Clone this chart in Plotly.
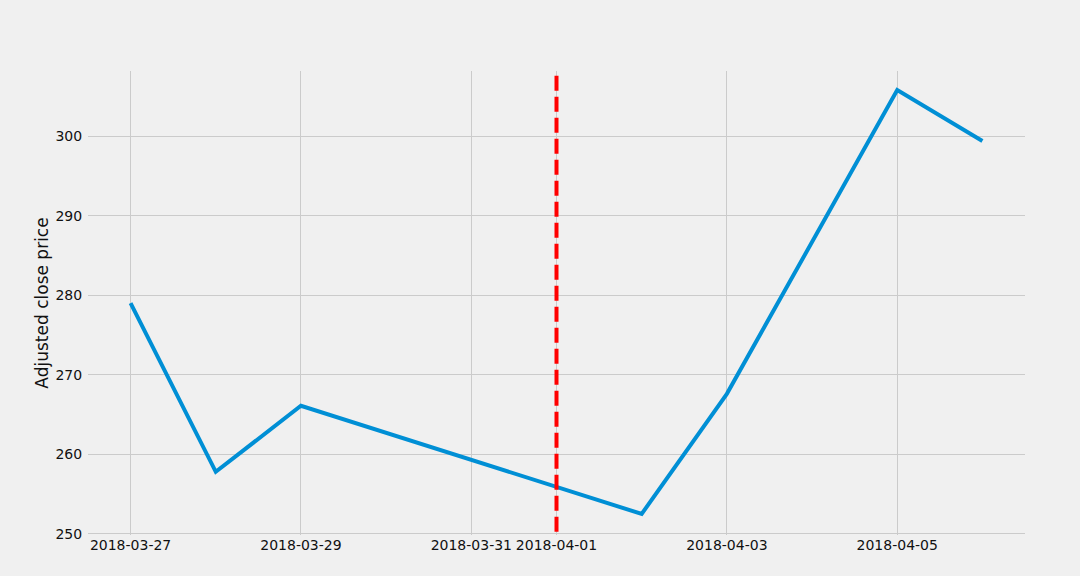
import plotly.graph_objects as go

dates = ["2018-03-27", "2018-03-28", "2018-03-29", "2018-04-02", "2018-04-03", "2018-04-05", "2018-04-06"]
adj_close = [279.0, 257.8, 266.1, 252.5, 267.6, 305.8, 299.4]
split_date = "2018-04-01"
x_tickvals = ["2018-03-27", "2018-03-29", "2018-03-31", "2018-04-01", "2018-04-03", "2018-04-05"]
x_ticktext = ["2018-03-27", "2018-03-29", "2018-03-31", "2018-04-01", "2018-04-03", "2018-04-05"]
y_tickvals = [250, 260, 270, 280, 290, 300]

fig = go.Figure()
fig.add_trace(go.Scatter(x=dates, y=adj_close, mode="lines",
                         line=dict(color="#008fd5", width=4), showlegend=False))
fig.add_trace(go.Scatter(x=[split_date, split_date], y=[307.6, 249.85], mode="lines",
                         line=dict(color="#ff0000", width=4, dash="15px,6px"), showlegend=False))

fig.update_layout(
    width=1080, height=576,
    paper_bgcolor="#f0f0f0", plot_bgcolor="#f0f0f0",
    margin=dict(l=88, r=55, t=71, b=41),
    font=dict(family="DejaVu Sans", size=14, color="#111111"),
    xaxis=dict(type="date", range=["2018-03-26 12:00", "2018-04-06 12:00"],
               tickvals=x_tickvals, ticktext=x_ticktext,
               showgrid=True, gridcolor="#cbcbcb", gridwidth=1,
               zeroline=False, showline=False, ticks="", ticklen=0),
    yaxis=dict(range=[249.85, 308.2], tickvals=y_tickvals,
               showgrid=True, gridcolor="#cbcbcb", gridwidth=1,
               zeroline=False, showline=False, ticks="outside", ticklen=2, tickcolor="#f0f0f0",
               title=dict(text="Adjusted close price", font=dict(size=17, color="#111111"), standoff=2)),
)

fig.write_html("out.html", config={"displayModeBar": False},
               post_script="document.body.style.margin='0';document.body.style.background='#f0f0f0';")
